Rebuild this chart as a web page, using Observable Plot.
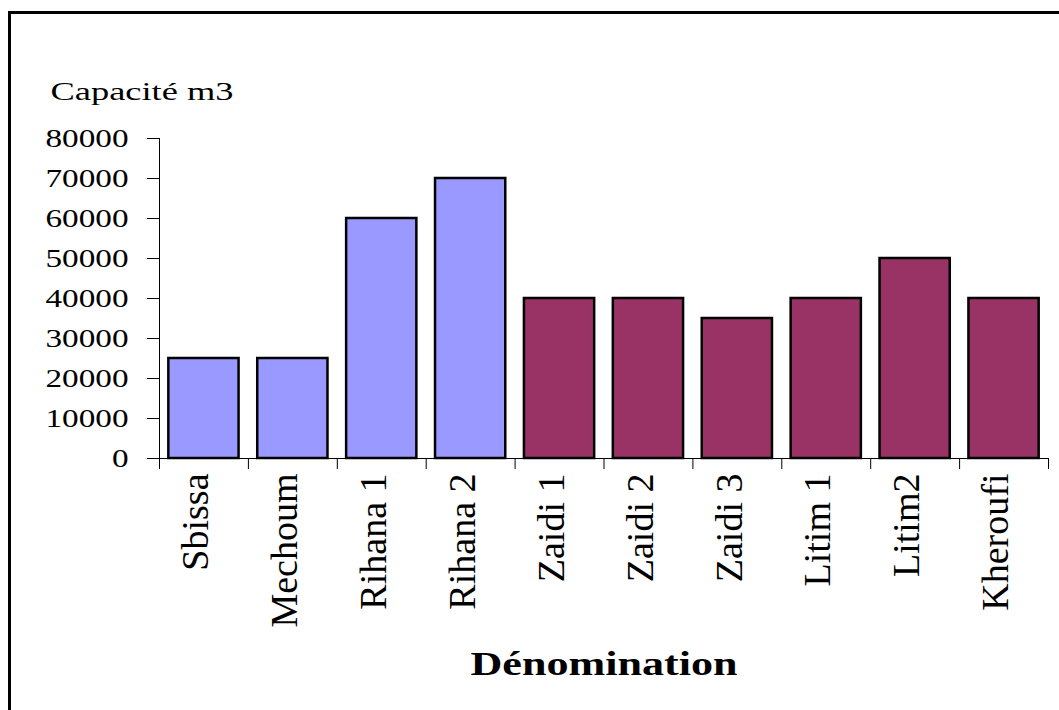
<!DOCTYPE html>
<html>
<head>
<meta charset="utf-8">
<script src="https://cdn.jsdelivr.net/npm/d3@7"></script>
<script src="https://cdn.jsdelivr.net/npm/@observablehq/plot@0.6"></script>
<style>
  html, body { margin: 0; padding: 0; background: #fff; overflow: hidden; width: 1059px; height: 710px; }
  #wrap { position: relative; width: 1059px; height: 710px; }
  #frame { position: absolute; left: 8px; top: 11px; width: 1200px; height: 900px; border: 3px solid #000; pointer-events: none; }
</style>
</head>
<body>
<div id="wrap"><div id="chart"></div><div id="frame"></div></div>
<script>
const categories = ["Sbissa", "Mechoum", "Rihana 1", "Rihana 2", "Zaidi 1", "Zaidi 2", "Zaidi 3", "Litim 1", "Litim2", "Kheroufi"];
const capacities = [25000, 25000, 60000, 70000, 40000, 40000, 35000, 40000, 50000, 40000];
const groups = ["A", "A", "A", "A", "B", "B", "B", "B", "B", "B"];
const yTicks = [0, 10000, 20000, 30000, 40000, 50000, 60000, 70000, 80000];
const yLabel = "Capacité m3";
const xLabel = "Dénomination";

const data = categories.map((c, i) => ({name: c, value: capacities[i], group: groups[i]}));
const last = categories[categories.length - 1];

const chart = Plot.plot({
  width: 1059,
  height: 710,
  marginLeft: 159,
  marginRight: 11,
  marginTop: 138,
  marginBottom: 252,
  style: {fontFamily: "'Liberation Serif', 'Times New Roman', serif", color: "#000", background: "#fff"},
  x: {domain: categories, paddingInner: 0.21, paddingOuter: 0.105, round: false},
  y: {domain: [0, 80000]},
  color: {domain: ["A", "B"], range: ["#9999FF", "#993366"]},
  marks: [
    Plot.barY(data, {x: "name", y: "value", fill: "group", stroke: "#000", strokeWidth: 2.5}),
    Plot.ruleY([0], {stroke: "#000", strokeWidth: 1}),
    Plot.frame({anchor: "left", stroke: "#000", strokeWidth: 1}),
    Plot.ruleX(categories, {x: d => d, dx: -44.45, y1: 0, y2: -2750, stroke: "#000"}),
    Plot.ruleX([last], {x: d => d, dx: 44.45, y1: 0, y2: -2750, stroke: "#000"}),
    Plot.axisY({ticks: yTicks, tickFormat: d => String(d), tickSize: 12, tickPadding: 19, fontSize: 26, label: null, stroke: "#000"}),
    Plot.axisX({tickSize: 0, tickRotate: -90, tickPadding: 15, fontSize: 38, label: null, dx: -8}),
    Plot.text([yLabel], {frameAnchor: "top-left", textAnchor: "start", lineAnchor: "bottom", dx: -109, dy: -39, fontSize: 26}),
    Plot.text([xLabel], {frameAnchor: "bottom", textAnchor: "middle", lineAnchor: "bottom", dy: 216, fontSize: 34, fontWeight: "bold"})
  ]
});
document.getElementById("chart").appendChild(chart);

// Horizontal stretch of upright texts, as in the reference
d3.select(chart).selectAll('g[aria-label="y-axis tick label"] text').each(function() {
  const t = this.textContent;
  this.setAttribute("textLength", 16.6 * t.length);
  this.setAttribute("lengthAdjust", "spacingAndGlyphs");
});
d3.select(chart).selectAll('g[aria-label="text"] text').each(function() {
  const t = this.textContent;
  if (t === yLabel) { this.setAttribute("textLength", 183); this.setAttribute("lengthAdjust", "spacingAndGlyphs"); }
  if (t === xLabel) { this.setAttribute("textLength", 267); this.setAttribute("lengthAdjust", "spacingAndGlyphs"); }
});
</script>
</body>
</html>
